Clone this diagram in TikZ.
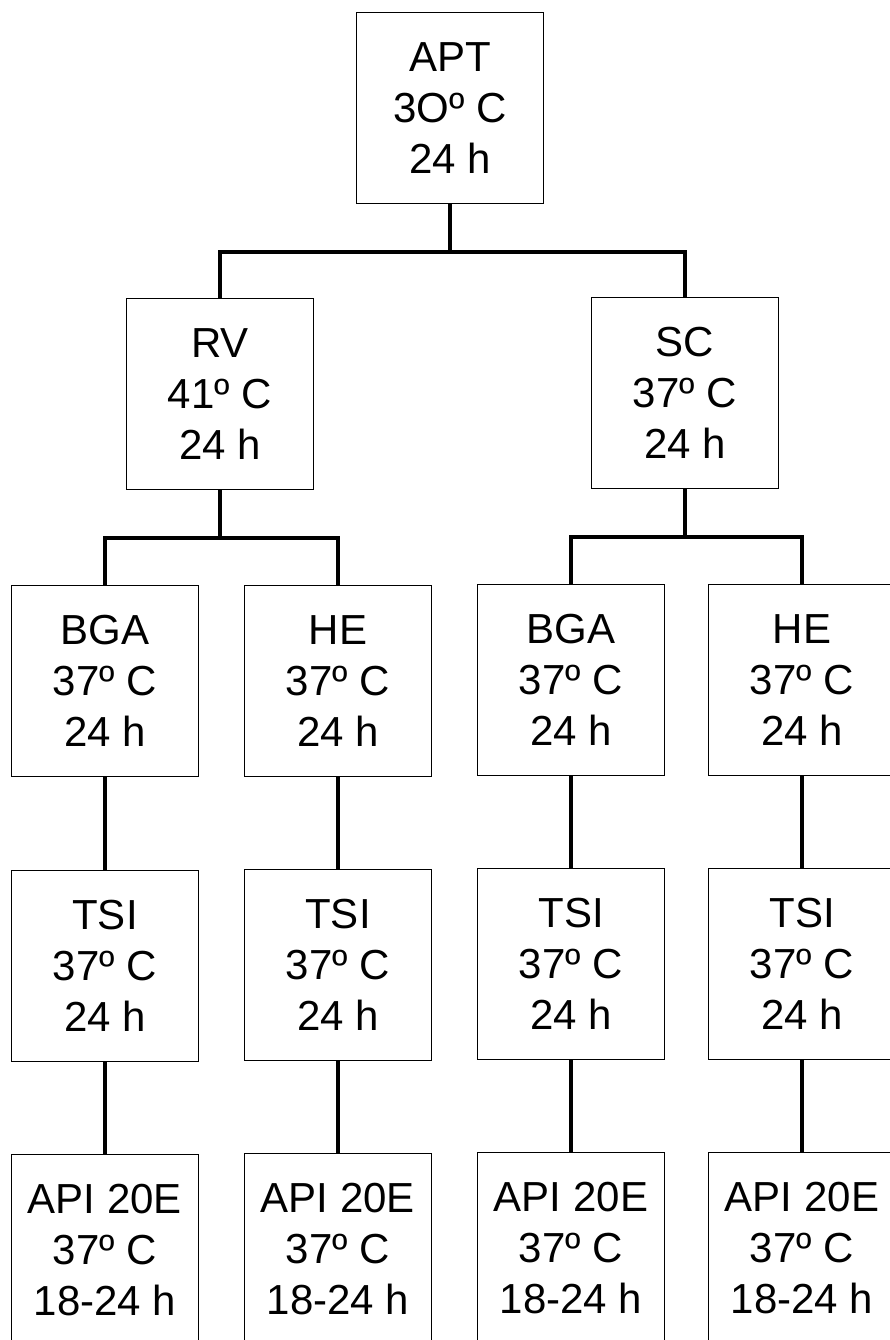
\documentclass[tikz,border=0pt]{standalone}
\usepackage{fontspec}
\setmainfont{Liberation Sans}
\usepackage{tikz}

\tikzset{
  medio/.style={draw, line width=1.6pt, minimum width=187pt, minimum height=191pt,
    inner sep=0pt, align=center, font=\fontsize{42}{51}\selectfont},
  rama/.style={line width=3.6pt}
}

\begin{document}
\begin{tikzpicture}[x=1pt,y=-1pt]
   \useasboundingbox (0,0) rectangle (890,1340);
   \clip (0,0) rectangle (890,1340);
   % enriquecimiento
   \node[medio] (apt) at (450,108) {APT\\3Oº C\\24 h};
   \node[medio] (rv)  at (220,394) {RV\\41º C\\24 h};
   \node[medio] (sc)  at (685,393) {SC\\37º C\\24 h};
   % aislamiento
   \node[medio] (bga1) at (105,681) {BGA\\37º C\\24 h};
   \node[medio] (he1)  at (338,681) {HE\\37º C\\24 h};
   \node[medio] (bga2) at (571,680) {BGA\\37º C\\24 h};
   \node[medio] (he2)  at (802,680) {HE\\37º C\\24 h};
   % TSI
   \node[medio] (tsi1) at (105,966) {TSI\\37º C\\24 h};
   \node[medio] (tsi2) at (338,965) {TSI\\37º C\\24 h};
   \node[medio] (tsi3) at (571,964) {TSI\\37º C\\24 h};
   \node[medio] (tsi4) at (802,964) {TSI\\37º C\\24 h};
   % identificacion
   \node[medio] (api1) at (105,1250) {API 20E\\37º C\\18-24 h};
   \node[medio] (api2) at (338,1249) {API 20E\\37º C\\18-24 h};
   \node[medio] (api3) at (571,1248) {API 20E\\37º C\\18-24 h};
   \node[medio] (api4) at (802,1248) {API 20E\\37º C\\18-24 h};
   % uniones
   \coordinate (j0) at (450,252);
   \coordinate (j1) at (220,538);
   \coordinate (j2) at (685,537);
   \draw[rama] (apt.south) -- (j0);
   \draw[rama] (rv.north) |- (j0) -| (sc.north);
   \draw[rama] (rv.south) -- (j1);
   \draw[rama] (bga1.north) |- (j1) -| (he1.north);
   \draw[rama] (sc.south) -- (j2);
   \draw[rama] (bga2.north) |- (j2) -| (he2.north);
   \draw[rama] (bga1) -- (tsi1);
   \draw[rama] (he1) -- (tsi2);
   \draw[rama] (bga2) -- (tsi3);
   \draw[rama] (he2) -- (tsi4);
   \draw[rama] (tsi1) -- (api1);
   \draw[rama] (tsi2) -- (api2);
   \draw[rama] (tsi3) -- (api3);
   \draw[rama] (tsi4) -- (api4);
\end{tikzpicture}
\end{document}
